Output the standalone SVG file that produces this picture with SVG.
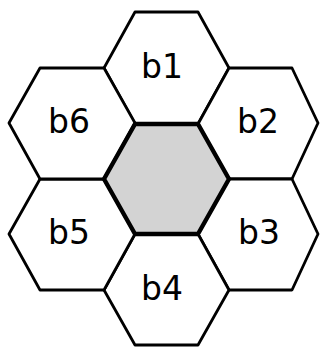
<svg xmlns="http://www.w3.org/2000/svg" width="320" height="347" viewBox="0 0 320 347">
<style>
.hex{fill:#ffffff;stroke:#000000;stroke-width:2.8;stroke-linejoin:round}
.mid{fill:#d3d3d3;stroke:#000000;stroke-width:4.4;stroke-linejoin:round}
.lbl{font-family:"DejaVu Sans",sans-serif;font-size:33px;fill:#000000;text-anchor:middle}
</style>
<rect width="320" height="347" fill="#ffffff"/>
<g id="b1"><polygon class="hex" points="104,68 135,12 198,12 229,68 198,124 135,124"/><text class="lbl" x="162" y="78">b1</text></g>
<g id="b2"><polygon class="hex" points="198,124 229,68 292,68 318,123 292,179 229,179"/><text class="lbl" x="258" y="133">b2</text></g>
<g id="b3"><polygon class="hex" points="198,234 229,179 292,179 318,234 292,290 229,290"/><text class="lbl" x="259" y="244">b3</text></g>
<g id="b4"><polygon class="hex" points="104,290 135,234 198,234 229,290 198,345 135,345"/><text class="lbl" x="162" y="300">b4</text></g>
<g id="b5"><polygon class="hex" points="9,234 40,179 104,179 135,234 104,290 40,290"/><text class="lbl" x="69" y="244">b5</text></g>
<g id="b6"><polygon class="hex" points="9,123 40,68 104,68 135,123 104,179 40,179"/><text class="lbl" x="69" y="133">b6</text></g>
<g id="center"><polygon class="mid" points="104,179 135,124 198,124 229,179 198,234 135,234"/></g>
<g id="connectors"></g>
</svg>
